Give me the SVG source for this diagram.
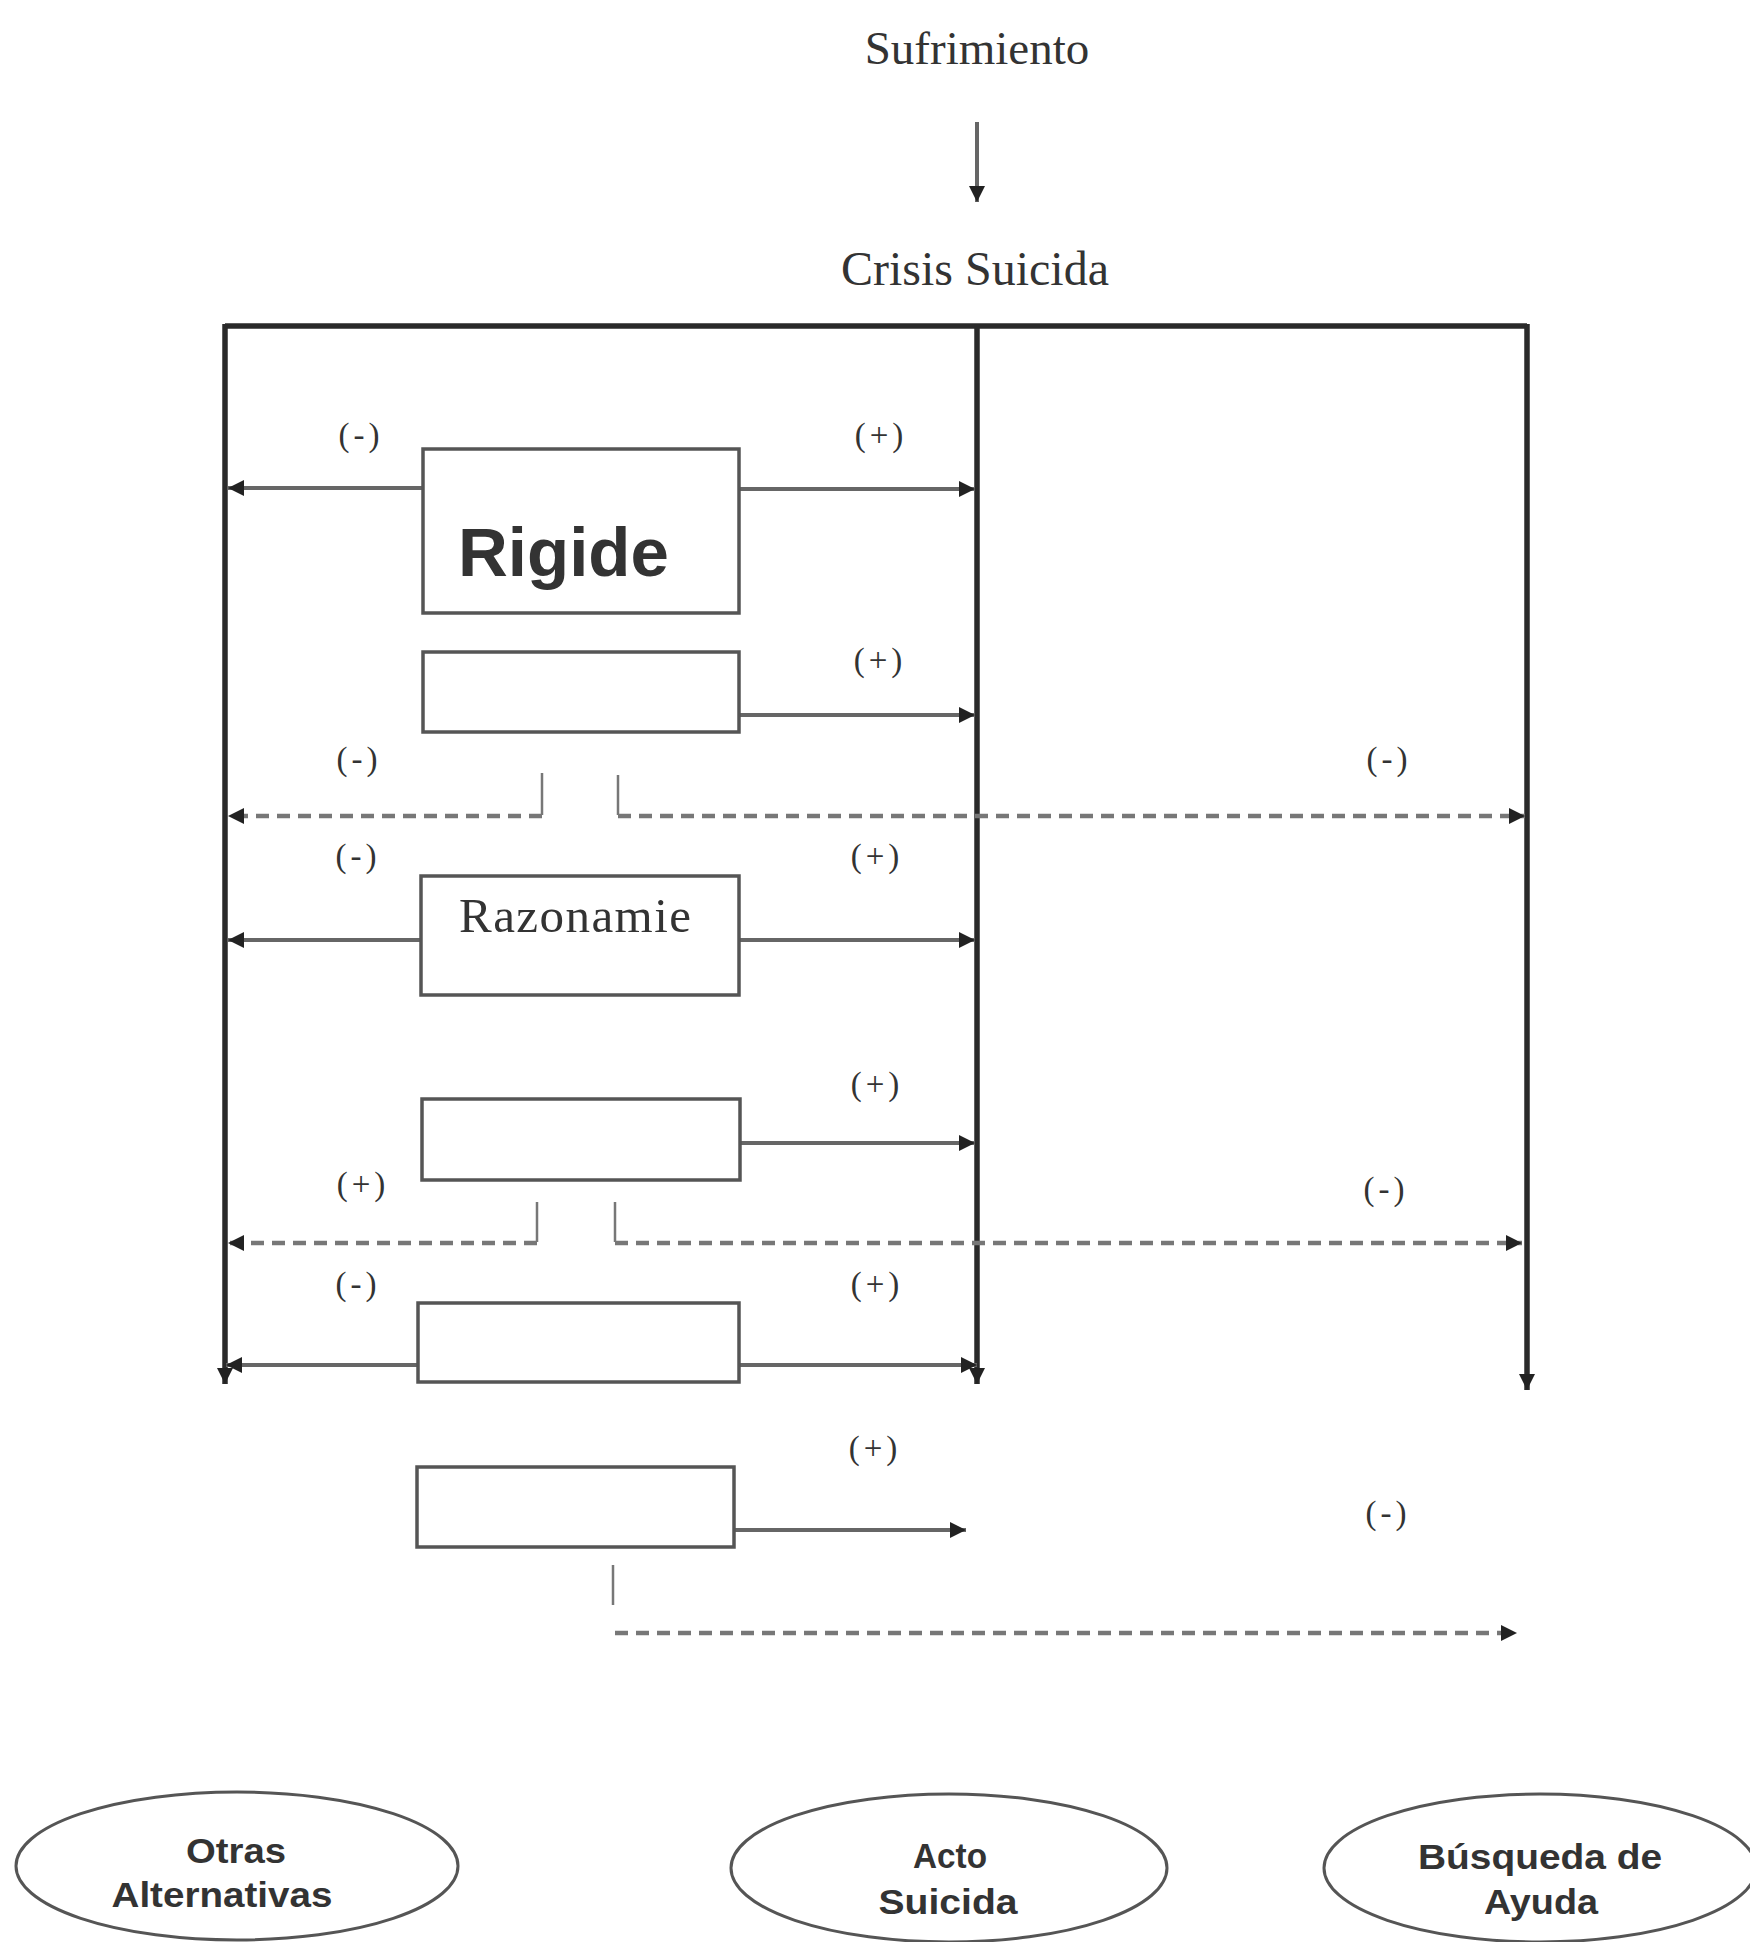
<svg xmlns="http://www.w3.org/2000/svg" width="1750" height="1942" viewBox="0 0 1750 1942">
<style>
.serif{font-family:"Liberation Serif","Times New Roman",serif;fill:#333}
.sans{font-family:"Liberation Sans",Arial,sans-serif;font-weight:bold;fill:#333}
.lbl{font-size:33px;text-anchor:middle;letter-spacing:4px}
.frame{stroke:#2a2a2a;stroke-width:5.5;fill:none}
.con{stroke:#666;stroke-width:4;fill:none}
.dash{stroke:#777;stroke-width:4.5;fill:none;stroke-dasharray:13 8}
.tick{stroke:#777;stroke-width:2.5;fill:none}
.box{fill:#fff;stroke:#555;stroke-width:3.5}
.ell{fill:#fff;stroke:#555;stroke-width:3}
.et{font-size:35px;text-anchor:middle}
</style>
<defs>
<marker id="ah" viewBox="0 0 10 10" refX="10" refY="5" markerWidth="19" markerHeight="16" markerUnits="userSpaceOnUse" orient="auto">
<path d="M0 0 L10 5 L0 10 z" fill="#222"/>
</marker>
</defs>
<rect width="1750" height="1942" fill="#fff"/>

<g id="sufrimiento"><text class="serif" x="977" y="64" font-size="47" text-anchor="middle">Sufrimiento</text></g>
<g id="crisis"><text class="serif" x="975" y="285" font-size="48" text-anchor="middle">Crisis Suicida</text></g>

<g id="connectors">
<path class="con" d="M977 122 V202" stroke="#333" stroke-width="3" marker-end="url(#ah)"/>
<path class="frame" d="M225 326 H1527" stroke-width="6.5"/>
<path class="frame" d="M225 324 V1384" marker-end="url(#ah)"/>
<path class="frame" d="M977 324 V1384" marker-end="url(#ah)"/>
<path class="frame" d="M1527 324 V1390" marker-end="url(#ah)"/>
<path class="con" d="M423 488 H228" marker-end="url(#ah)"/>
<path class="con" d="M739 489 H975" marker-end="url(#ah)"/>
<path class="con" d="M739 715 H975" marker-end="url(#ah)"/>
<path class="tick" d="M542 773 V815"/>
<path class="dash" d="M542 816 H228" marker-end="url(#ah)"/>
<path class="tick" d="M618 775 V815"/>
<path class="dash" d="M618 816 H1525" marker-end="url(#ah)"/>
<path class="con" d="M423 940 H228" marker-end="url(#ah)"/>
<path class="con" d="M740 940 H975" marker-end="url(#ah)"/>
<path class="con" d="M740 1143 H975" marker-end="url(#ah)"/>
<path class="tick" d="M537 1202 V1242"/>
<path class="dash" d="M537 1243 H228" marker-end="url(#ah)"/>
<path class="tick" d="M615 1202 V1242"/>
<path class="dash" d="M615 1243 H1522" marker-end="url(#ah)"/>
<path class="con" d="M419 1365 H226" marker-end="url(#ah)"/>
<path class="con" d="M740 1365 H977" marker-end="url(#ah)"/>
<path class="con" d="M735 1530 H966" marker-end="url(#ah)"/>
<path class="tick" d="M613 1565 V1605"/>
<path class="dash" d="M615 1633 H1517" marker-end="url(#ah)"/>
</g>

<g id="labels">
<text class="serif lbl" x="361" y="446">(-)</text>
<text class="serif lbl" x="881" y="446">(+)</text>
<text class="serif lbl" x="880" y="671">(+)</text>
<text class="serif lbl" x="359" y="770">(-)</text>
<text class="serif lbl" x="1389" y="770">(-)</text>
<text class="serif lbl" x="358" y="867">(-)</text>
<text class="serif lbl" x="877" y="867">(+)</text>
<text class="serif lbl" x="877" y="1095">(+)</text>
<text class="serif lbl" x="363" y="1195">(+)</text>
<text class="serif lbl" x="1386" y="1200">(-)</text>
<text class="serif lbl" x="358" y="1295">(-)</text>
<text class="serif lbl" x="877" y="1295">(+)</text>
<text class="serif lbl" x="875" y="1459">(+)</text>
<text class="serif lbl" x="1388" y="1524">(-)</text>
</g>

<g id="box-rigide"><rect class="box" x="423" y="449" width="316" height="164"/>
<text class="sans" x="458" y="576" font-size="69">Rigide</text></g>
<g id="box-2"><rect class="box" x="423" y="652" width="316" height="80"/></g>
<g id="box-razonamie"><rect class="box" x="421" y="876" width="318" height="119"/>
<text class="serif" x="459" y="932" font-size="49" textLength="232">Razonamie</text></g>
<g id="box-5"><rect class="box" x="422" y="1099" width="318" height="81"/></g>
<g id="box-7"><rect class="box" x="418" y="1303" width="321" height="79"/></g>
<g id="box-8"><rect class="box" x="417" y="1467" width="317" height="80"/></g>

<g id="otras"><ellipse class="ell" cx="237" cy="1866" rx="221" ry="74"/>
<text class="sans et" x="236" y="1863" textLength="100" lengthAdjust="spacingAndGlyphs">Otras</text>
<text class="sans et" x="222" y="1907" textLength="221" lengthAdjust="spacingAndGlyphs">Alternativas</text></g>
<g id="acto"><ellipse class="ell" cx="949" cy="1868" rx="218" ry="74"/>
<text class="sans et" x="950" y="1868" textLength="74" lengthAdjust="spacingAndGlyphs">Acto</text>
<text class="sans et" x="948" y="1914" textLength="139" lengthAdjust="spacingAndGlyphs">Suicida</text></g>
<g id="busqueda"><ellipse class="ell" cx="1540" cy="1868" rx="216" ry="74"/>
<text class="sans et" x="1540" y="1869" textLength="244" lengthAdjust="spacingAndGlyphs">Búsqueda de</text>
<text class="sans et" x="1541" y="1914" textLength="114" lengthAdjust="spacingAndGlyphs">Ayuda</text></g>
</svg>
